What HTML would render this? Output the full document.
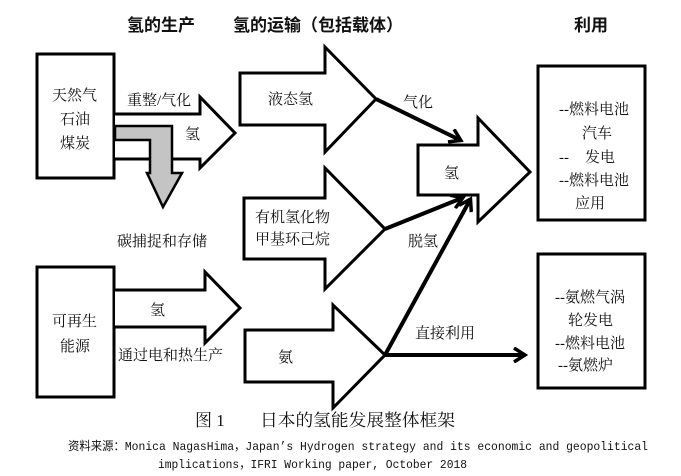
<!DOCTYPE html>
<html><head><meta charset="utf-8"><style>
html,body{margin:0;padding:0;background:#fff;}
svg{display:block;}
text{font-family:"Liberation Serif","Noto Serif CJK SC","Noto Sans CJK SC",serif;fill:#111;}
.b{font-family:"Liberation Sans","Noto Sans CJK SC",sans-serif;font-weight:bold;font-size:17px;}
.t{font-size:15px;}
.m{font-family:"Liberation Mono","Noto Sans CJK SC",monospace;font-size:12px;}
</style></head><body>
<svg width="681" height="476" viewBox="0 0 681 476" xmlns="http://www.w3.org/2000/svg">
<defs>
<marker id="ah" markerWidth="16" markerHeight="16" refX="12" refY="8" orient="auto" markerUnits="userSpaceOnUse">
<path d="M2,1 L13,8 L2,15" fill="none" stroke="#000" stroke-width="3.5"/>
</marker>
</defs>
<text class="b" x="127" y="31">氢的生产</text>
<text class="b" x="233" y="31">氢的运输（包括载体）</text>
<text class="b" x="574" y="31">利用</text>

<g fill="#fff" stroke="#000" stroke-width="3">
<rect x="37" y="54" width="77" height="124"/>
<rect x="37" y="267" width="77" height="130"/>
<rect x="538" y="66" width="107" height="154"/>
<rect x="538" y="254" width="107" height="134"/>
<path d="M115,114 L200,114 L200,97 L235,133 L200,168 L200,159 L115,159"/>
<path d="M115,290 L205,290 L205,272 L240,308 L205,343 L205,327 L115,327"/>
<path d="M240,73 L325,73 L325,47 L376,99 L325,152 L325,125 L240,125 Z"/>
<path d="M244,198 L325,198 L325,168 L385,229 L325,289 L325,259 L244,259 Z"/>
<path d="M245,330 L333,330 L333,305 L385,355 L333,408 L333,382 L245,382 Z"/>
<path d="M418,145 L478,145 L478,118 L530,172 L478,222 L478,195 L418,195 Z"/>
</g>
<path d="M115,126 L172,126 L172,173 L182,173 L163,207 L147,173 L150,173 L150,140 L115,140 Z" fill="#c4c4c4" stroke="#000" stroke-width="2.5"/>

<g stroke="#000" stroke-width="4" fill="none" marker-end="url(#ah)">
<line x1="376" y1="99" x2="460" y2="140"/>
<line x1="385" y1="229" x2="462" y2="198"/>
<line x1="385" y1="355" x2="470" y2="200"/>
<line x1="385" y1="355" x2="524" y2="355"/>
</g>

<g class="t">
<text x="52" y="100" class="t">天然气</text>
<text x="60" y="124" class="t">石油</text>
<text x="60" y="148" class="t">煤炭</text>
<text x="127" y="105" class="t">重整/气化</text>
<text x="185" y="139" class="t">氢</text>
<text x="117" y="246" class="t">碳捕捉和存储</text>
<text x="268" y="104" class="t">液态氢</text>
<text x="255" y="222" class="t">有机氢化物</text>
<text x="255" y="244" class="t">甲基环己烷</text>
<text x="278" y="362" class="t">氨</text>
<text x="403" y="107" class="t">气化</text>
<text x="408" y="246" class="t">脱氢</text>
<text x="415" y="338" class="t">直接利用</text>
<text x="444" y="178" class="t">氢</text>
<text x="52" y="326" class="t">可再生</text>
<text x="60" y="351" class="t">能源</text>
<text x="150" y="315" class="t">氢</text>
<text x="118" y="360" class="t">通过电和热生产</text>
<text x="559" y="114" class="t">--燃料电池</text>
<text x="582" y="138" class="t">汽车</text>
<text x="559" y="162" class="t">--</text>
<text x="585" y="162" class="t">发电</text>
<text x="559" y="185" class="t">--燃料电池</text>
<text x="575" y="208" class="t">应用</text>
<text x="555" y="302" class="t">--氨燃气涡</text>
<text x="568" y="325" class="t">轮发电</text>
<text x="555" y="348" class="t">--燃料电池</text>
<text x="558" y="370" class="t">--氨燃炉</text>
</g>
<text x="195" y="426" style="font-size:17px">图 1</text>
<text x="260" y="426" style="font-size:17px" textLength="195" lengthAdjust="spacingAndGlyphs">日本的氢能发展整体框架</text>
<text class="m" x="68" y="450" textLength="580" lengthAdjust="spacingAndGlyphs">资料来源：Monica NagasHima，Japan’s Hydrogen strategy and its economic and geopolitical</text>
<text class="m" x="158" y="468" textLength="309" lengthAdjust="spacingAndGlyphs">implications，IFRI Working paper, October 2018</text>
</svg>
</body></html>
